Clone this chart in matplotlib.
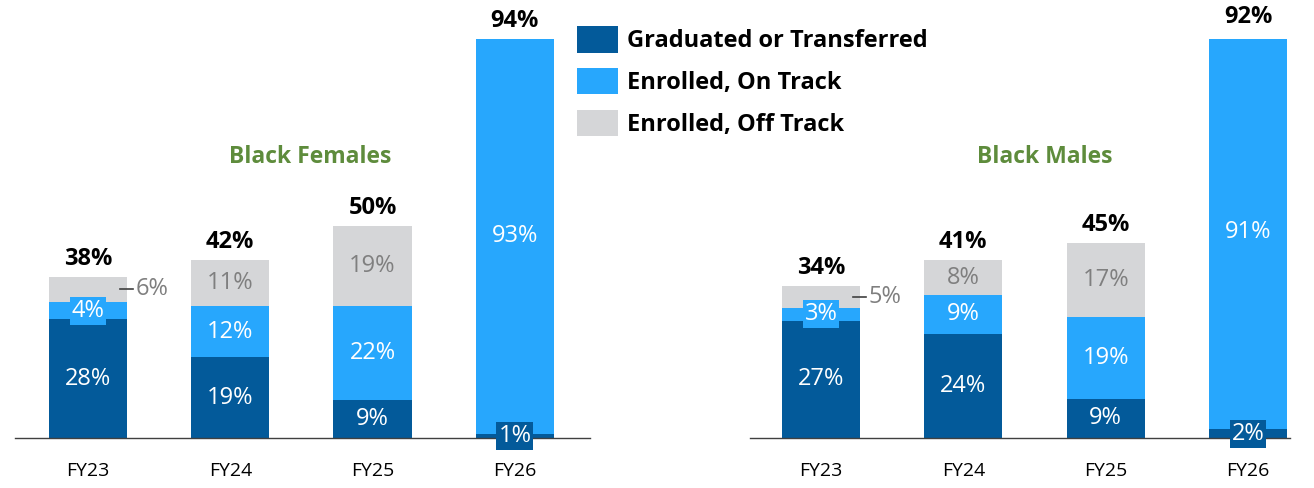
import numpy as np
import matplotlib.pyplot as plt

plt.rcParams["font.family"] = ["Open Sans", "DejaVu Sans"]

years = ["FY23", "FY24", "FY25", "FY26"]

fem_grad = [28, 19, 9, 1]
fem_on = [4, 12, 22, 93]
fem_off = [6, 11, 19, 0]
fem_total = [38, 42, 50, 94]

male_grad = [27, 24, 9, 2]
male_on = [3, 9, 19, 91]
male_off = [5, 8, 17, 0]
male_total = [34, 41, 45, 92]

series_names = ["Graduated or Transferred", "Enrolled, On Track", "Enrolled, Off Track"]
colors = ["#035a9a", "#27a7fd", "#d5d6d8"]
text_colors = ["white", "white", "#7f7f7f"]
title_green = "#5e8c3c"

LABEL_FS = 17


def draw_panel(ax, grad, on, off, total, xlim):
    x = np.arange(len(years))
    width = 0.55
    layers = [grad, on, off]
    bottom = np.zeros(len(years))
    for k, vals in enumerate(layers):
        vals = np.array(vals, dtype=float)
        ax.bar(x, vals, width, bottom=bottom, color=colors[k], label=series_names[k])
        for i, v in enumerate(vals):
            if v <= 0:
                continue
            yc = bottom[i] + v / 2
            if k == 2 and v <= 6:
                # small off-track value: label outside with a dash
                ax.plot([x[i] + width / 2 - 0.05, x[i] + width / 2 + 0.04], [yc, yc],
                        color="#404040", lw=1.2)
                ax.text(x[i] + width / 2 + 0.06, yc, f"{int(v)}%", ha="left", va="center",
                        fontsize=LABEL_FS, color="#7f7f7f")
            elif v < 5:
                ax.text(x[i], yc, f"{int(v)}%", ha="center", va="center", fontsize=LABEL_FS,
                        color=text_colors[k],
                        bbox=dict(boxstyle="square,pad=0.08", fc=colors[k], ec="none"))
            else:
                ax.text(x[i], yc, f"{int(v)}%", ha="center", va="center", fontsize=LABEL_FS,
                        color=text_colors[k])
        bottom += vals
    for i, t in enumerate(total):
        ax.annotate(f"{t}%", (x[i], bottom[i]), xytext=(0, 13), textcoords="offset points",
                    ha="center", va="center", fontsize=LABEL_FS, fontweight="bold",
                    color="black", annotation_clip=False)
    ax.set_xlim(*xlim)
    ax.set_ylim(0, max(total))
    ax.set_xticks(x)
    ax.set_xticklabels(years, fontsize=14)
    ax.tick_params(axis="x", length=0, pad=17)
    ax.set_yticks([])
    for s in ["top", "left", "right"]:
        ax.spines[s].set_visible(False)
    ax.spines["bottom"].set_color("#404040")
    ax.spines["bottom"].set_linewidth(1.0)
    return ax


fig = plt.figure(figsize=(13.14, 4.88), dpi=100)
ax1 = fig.add_axes([0.0114, 0.1025, 0.4376, 0.8176])
ax2 = fig.add_axes([0.5708, 0.1025, 0.411, 0.8176])

draw_panel(ax1, fem_grad, fem_on, fem_off, fem_total, (-0.513, 3.528))
draw_panel(ax2, male_grad, male_on, male_off, male_total, (-0.499, 3.296))

fig.text(310 / 1314, 1 - 157 / 488, "Black Females", ha="center", va="center",
         fontsize=16.5, fontweight="bold", color=title_green)
fig.text(1045 / 1314, 1 - 157 / 488, "Black Males", ha="center", va="center",
         fontsize=16.5, fontweight="bold", color=title_green)

handles, labels = ax1.get_legend_handles_labels()
leg = fig.legend(handles, labels, loc="upper left", bbox_to_anchor=(575 / 1314, 1 - 24 / 488),
                 frameon=False, prop={"size": 17, "weight": "bold"},
                 handlelength=1.7, handleheight=1.33, labelspacing=0.63, handletextpad=0.42,
                 borderpad=0.1, borderaxespad=0)

fig.savefig("out.png", dpi=100)
